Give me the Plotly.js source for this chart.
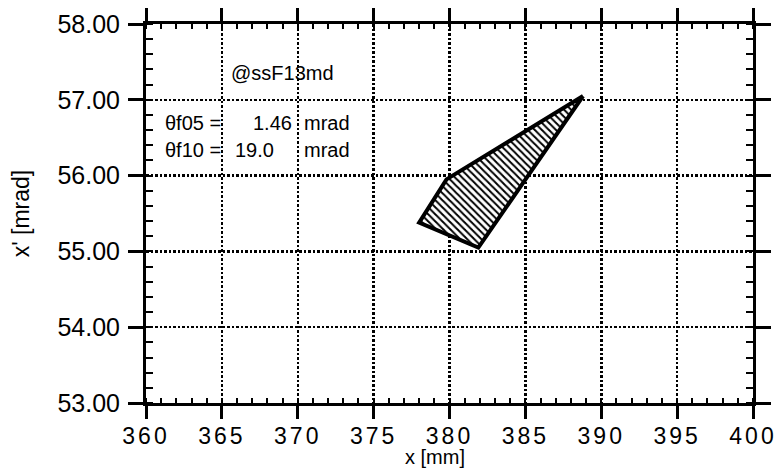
<!DOCTYPE html>
<html>
<head>
<meta charset="utf-8">
<script src="https://cdn.plot.ly/plotly-3.0.1.min.js"></script>
<style>
  html, body { margin: 0; padding: 0; background: #fff; }
  #chart { width: 780px; height: 469px; }
  .xaxislayer-above .xtick text { letter-spacing: 3px; }
</style>
</head>
<body>
<div id="chart"></div>
<script>
// Polygon (emittance region) vertices
const polyX = [388.8, 379.8, 378.0, 381.9, 388.8];   // x [mm]
const polyY = [57.05, 55.95, 55.38, 55.05, 57.05];   // x' [mrad]

// Axis settings
const xRange = [360, 400];
const yRange = [53, 58];
const xTitle = 'x [mm]';
const yTitle = "x' [mrad]";

// Annotation texts
const labelTexts = ['@ssF13md', 'θf05 =', '1.46', 'mrad', 'θf10 =', '19.0', 'mrad'];
const labelX = [365.5, 361.1, 366.9, 370.25, 361.1, 365.7, 370.25];
const labelY = [57.36, 56.70, 56.70, 56.70, 56.34, 56.34, 56.34];

const FONT = '"Liberation Sans", Arial, Helvetica, sans-serif';

const traces = [{
  type: 'scatter',
  mode: 'lines',
  x: polyX,
  y: polyY,
  fill: 'toself',
  fillcolor: 'white',
  fillpattern: { shape: '\\', size: 5, solidity: 0.4, fgcolor: 'black', bgcolor: 'white', fillmode: 'replace' },
  line: { color: 'black', width: 4 },
  hoverinfo: 'skip',
  showlegend: false
}];

const annotations = labelTexts.map((t, i) => ({
  text: t, x: labelX[i], y: labelY[i], xref: 'x', yref: 'y',
  xanchor: 'left', yanchor: 'middle', showarrow: false,
  font: { family: FONT, size: 20, color: 'black' }
}));

// x-axis title placed just below the tick labels (as in the reference)
annotations.push({
  text: xTitle, xref: 'paper', yref: 'paper', x: 0.476, y: -0.174,
  xanchor: 'center', yanchor: 'bottom', showarrow: false, borderpad: 0,
  font: { family: FONT, size: 20, color: 'black' }
});

const layout = {
  width: 780, height: 469,
  margin: { l: 146, r: 27, t: 24, b: 66 },
  paper_bgcolor: 'white', plot_bgcolor: 'white',
  showlegend: false,
  font: { family: FONT, color: 'black' },
  xaxis: {
    range: xRange, tick0: 360, dtick: 5, tickmode: 'linear',
    ticks: 'outside', ticklen: 13, tickwidth: 3, tickcolor: 'black',
    showline: true, linewidth: 3, linecolor: 'black', mirror: 'ticks',
    showgrid: true, gridcolor: 'black', gridwidth: 2.5, griddash: '2.5px,2px',
    zeroline: false,
    minor: { dtick: 1, ticks: 'inside', ticklen: 5, tickwidth: 2, tickcolor: 'black', showgrid: false },
    tickfont: { family: FONT, size: 23, color: 'black' },
    ticklabelstandoff: -3
  },
  yaxis: {
    range: yRange, tick0: 53, dtick: 1, tickmode: 'linear', tickformat: '.2f',
    ticks: 'outside', ticklen: 15, tickwidth: 3, tickcolor: 'black',
    showline: true, linewidth: 3, linecolor: 'black', mirror: 'ticks',
    showgrid: true, gridcolor: 'black', gridwidth: 2.5, griddash: '2.5px,2px',
    zeroline: false,
    minor: { dtick: 0.2, ticks: 'inside', ticklen: 7, tickwidth: 2, tickcolor: 'black', showgrid: false },
    tickfont: { family: FONT, size: 25, color: 'black' },
    ticklabelstandoff: 3,
    title: { text: yTitle, font: { family: FONT, size: 23, color: 'black' }, standoff: 22 }
  },
  yaxis2: {
    overlaying: 'y', anchor: 'x', side: 'left',
    range: yRange, tick0: 53, dtick: 1, tickmode: 'linear',
    ticks: 'inside', ticklen: 15, tickwidth: 3, tickcolor: 'black',
    showline: false, mirror: 'ticks', showgrid: false, zeroline: false,
    showticklabels: false
  },
  annotations: annotations
};

Plotly.newPlot('chart', traces, layout, { staticPlot: true, displayModeBar: false });
</script>
</body>
</html>
